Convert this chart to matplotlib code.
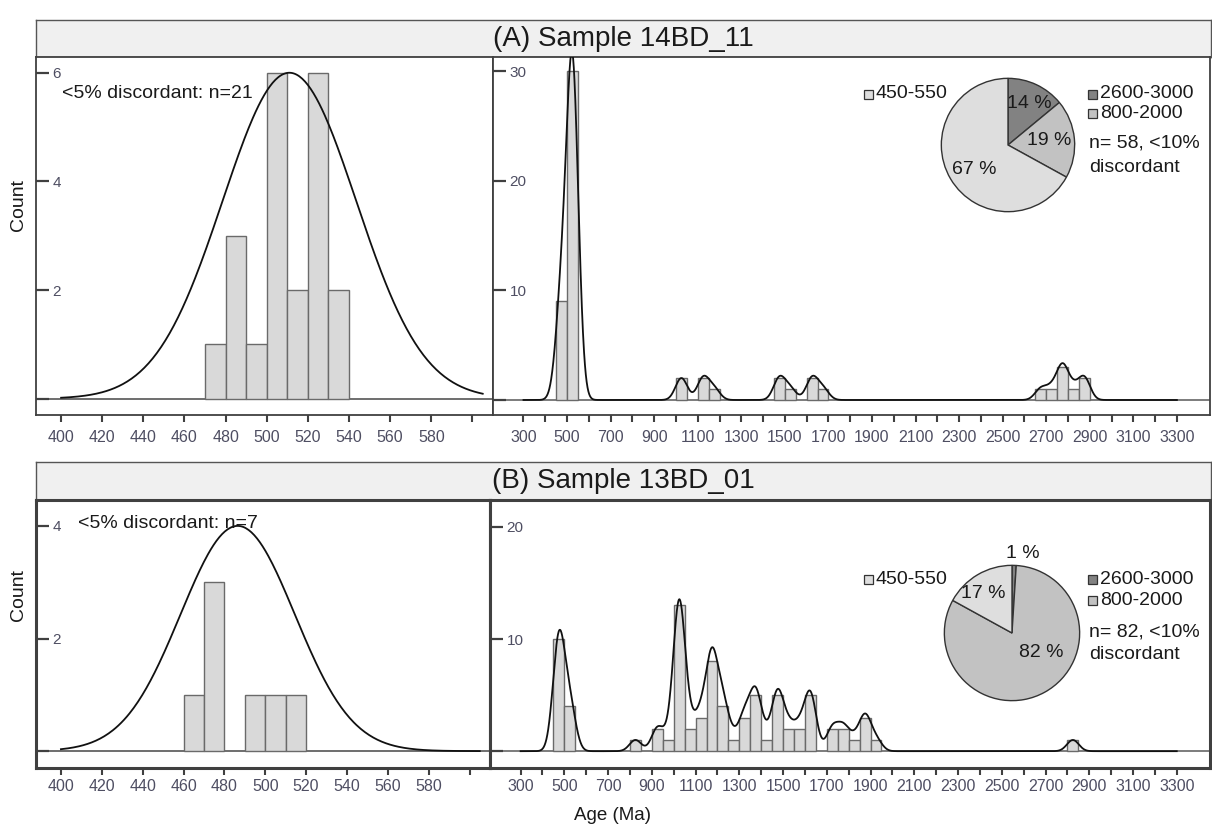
import numpy as np
import matplotlib
matplotlib.use("Agg")
import matplotlib.pyplot as plt
from matplotlib.patches import Rectangle

plt.rcParams['font.family'] = ['Liberation Sans', 'DejaVu Sans']

W, H = 1212, 830

# --- (A) sample 14BD_11 ---
a_young_edges = [470, 480, 490, 500, 510, 520, 530]
a_young_counts = [1, 3, 1, 6, 2, 6, 2]
a_all_edges = [450, 500, 1000, 1100, 1150, 1450, 1500, 1600, 1650,
               2650, 2700, 2750, 2800, 2850]
a_all_counts = [9, 30, 2, 2, 1, 2, 1, 2, 1, 1, 1, 3, 1, 2]
a_pie = [14, 19, 67]
a_fit = (511, 32.5, 6)      # mean, sigma, peak of fitted curve

# --- (B) sample 13BD_01 ---
b_young_edges = [460, 470, 490, 500, 510]
b_young_counts = [1, 3, 1, 1, 1]
b_all_edges = [450, 500, 800, 900, 950, 1000, 1050, 1100, 1150, 1200, 1250,
               1300, 1350, 1400, 1450, 1500, 1550, 1600, 1700, 1750, 1800,
               1850, 1900, 2800]
b_all_counts = [10, 4, 1, 2, 1, 13, 2, 3, 8, 4, 1, 3, 5, 1, 5, 2, 2, 5, 2, 2,
                1, 3, 1, 1]
b_pie = [1, 82, 17]
b_fit = (486.5, 28, 4)

pie_names = ['2600-3000', '800-2000', '450-550']
pie_colors = ['#828282', '#c2c2c2', '#dedede']

TICKC = '#4e4e62'
SPC = '#404040'
BARFC = '#d9d9d9'
BAREC = '#6a6a6a'
TXT = '#1a1a1a'


def fpos(x0, y0, x1, y1):
    return [x0 / W, 1 - y1 / H, (x1 - x0) / W, (y1 - y0) / H]


def px(x, y):
    return x / W, 1 - y / H


def kde(x, edges, counts, width=50, bw=27):
    # smoothed age curve, peak-scaled to the histogram counts
    y = np.zeros_like(x)
    for e, c in zip(edges, counts):
        y += c * np.exp(-(x - (e + width / 2)) ** 2 / (2 * bw ** 2))
    return y


def style(ax, lw, yticks, ylabels, xpad):
    for s in ax.spines.values():
        s.set_color(SPC)
        s.set_linewidth(lw)
    ax.tick_params(axis='x', direction='out', length=5, width=1.5,
                   color=SPC, labelsize=11.5, labelcolor=TICKC, pad=xpad)
    ax.set_yticks(yticks)
    ax.set_yticklabels(ylabels)
    ax.tick_params(axis='y', direction='in', length=9, width=1.6,
                   color=SPC, labelsize=11, labelcolor=TICKC, pad=-12)
    plt.setp(ax.get_yticklabels(), ha='left')


fig = plt.figure(figsize=(W / 100, H / 100), dpi=100)

panels = [
    dict(head=(36, 20, 1211, 57), title='(A) Sample 14BD_11',
         left=(36, 57, 493, 415), right=(493, 57, 1210, 415), lw=1.3, xpad=6,
         ye=a_young_edges, yc=a_young_counts, fit=a_fit,
         ae=a_all_edges, ac=a_all_counts, pie=a_pie,
         lylim=(-0.3, 6.29), lyt=[0, 2, 4, 6], ryl=(-1.37, 31.3), ryt=[0, 10, 20, 30],
         note='<5% discordant: n=21', note_xy=(62, 94),
         pie_box=(940, 77, 1076, 213), n_text='n= 58, <10%',
         pct_xy=[(0.32, 0.62), (0.62, 0.07), (-0.51, -0.37)],
         leg_y=(94, 94, 114, 143, 167)),
    dict(head=(36, 462, 1211, 500), title='(B) Sample 13BD_01',
         left=(36, 500, 490, 768), right=(490, 500, 1210, 768), lw=2.2, xpad=3,
         ye=b_young_edges, yc=b_young_counts, fit=b_fit,
         ae=b_all_edges, ac=b_all_counts, pie=b_pie,
         lylim=(-0.3, 4.46), lyt=[0, 2, 4], ryl=(-1.5, 22.4), ryt=[0, 10, 20],
         note='<5% discordant: n=7', note_xy=(78, 523),
         pie_box=(943, 564, 1081, 702), n_text='n= 82, <10%',
         pct_xy=[(0.16, 1.17), (0.43, -0.29), (-0.42, 0.59)],
         leg_y=(579, 579, 600, 632, 654)),
]

for p in panels:
    # header strip
    hx = fig.add_axes(fpos(*p['head']))
    hx.set_facecolor('#f0f0f0')
    hx.set_xticks([]); hx.set_yticks([])
    for s in hx.spines.values():
        s.set_color('#555555'); s.set_linewidth(1)
    hx.text(0.5, 0.5, p['title'], ha='center', va='center', fontsize=20,
            color=TXT, transform=hx.transAxes)

    # left: young population
    ax = fig.add_axes(fpos(*p['left']))
    ax.bar(p['ye'], p['yc'], width=10, align='edge', color=BARFC,
           edgecolor=BAREC, linewidth=1, zorder=2)
    mu, sg, pk = p['fit']
    xs = np.linspace(400, 605, 300)
    ax.plot(xs, pk * np.exp(-(xs - mu) ** 2 / (2 * sg ** 2)), color='#111111',
            lw=1.3, zorder=3)
    ax.axhline(0, color='#555555', lw=1.2, zorder=1)
    ax.set_xlim(387.8, 610)
    ax.set_ylim(*p['lylim'])
    ax.set_xticks(range(400, 601, 20))
    ax.set_xticklabels([str(v) for v in range(400, 600, 20)] + [''])
    style(ax, p['lw'], p['lyt'], [''] + [str(v) for v in p['lyt'][1:]], p['xpad'])
    fig.text(*px(*p['note_xy']), p['note'], ha='left', va='center',
             fontsize=14, color=TXT)

    # right: all detrital ages
    bx = fig.add_axes(fpos(*p['right']))
    bx.bar(p['ae'], p['ac'], width=50, align='edge', color=BARFC,
           edgecolor=BAREC, linewidth=1, zorder=2)
    xs = np.linspace(300, 3300, 3001)
    bx.plot(xs, kde(xs, p['ae'], p['ac']), color='#111111', lw=1.3, zorder=3)
    bx.axhline(0, color='#666666', lw=1.2, zorder=1)
    bx.set_xlim(160, 3452)
    bx.set_ylim(*p['ryl'])
    bx.set_xticks(range(300, 3301, 100))
    bx.set_xticklabels([str(v) if (v - 300) % 200 == 0 else ''
                        for v in range(300, 3301, 100)])
    style(bx, p['lw'], p['ryt'], [''] + [str(v) for v in p['ryt'][1:]], p['xpad'])

    # pie of age groups
    pa = fig.add_axes(fpos(*p['pie_box']))
    pa.pie(p['pie'], colors=pie_colors, startangle=90, counterclock=False,
           wedgeprops=dict(edgecolor='#333333', linewidth=1))
    pa.set_xlim(-1.02, 1.02); pa.set_ylim(-1.02, 1.02)
    for v, (tx, ty) in zip(p['pie'], p['pct_xy']):
        pa.text(tx, ty, f'{v} %', ha='center', va='center', fontsize=14,
                color=TXT, clip_on=False)

    # legend
    y450, y26, y80, yn, yd = p['leg_y']
    for name, col, (sx, sy) in [(pie_names[2], pie_colors[2], (864, y450)),
                                (pie_names[0], pie_colors[0], (1088, y26)),
                                (pie_names[1], pie_colors[1], (1088, y80))]:
        rx, ry = px(sx, sy + 4.5)
        fig.add_artist(Rectangle((rx, ry), 9 / W, 9 / H, transform=fig.transFigure,
                                 facecolor=col, edgecolor='#333333', lw=0.9))
        fig.text(*px(sx + 12, sy), name, ha='left', va='center', fontsize=14,
                 color=TXT)
    fig.text(*px(1089, yn), p['n_text'], ha='left', va='center', fontsize=14,
             color=TXT)
    fig.text(*px(1089, yd), 'discordant', ha='left', va='center', fontsize=14,
             color=TXT)

fig.text(*px(18, 205), 'Count', rotation=90, ha='center', va='center',
         fontsize=14, color=TXT)
fig.text(*px(18, 595), 'Count', rotation=90, ha='center', va='center',
         fontsize=14, color=TXT)
fig.text(*px(612, 815), 'Age (Ma)', ha='center', va='center', fontsize=13.5,
         color=TXT)

fig.savefig('out.png', dpi=100)
